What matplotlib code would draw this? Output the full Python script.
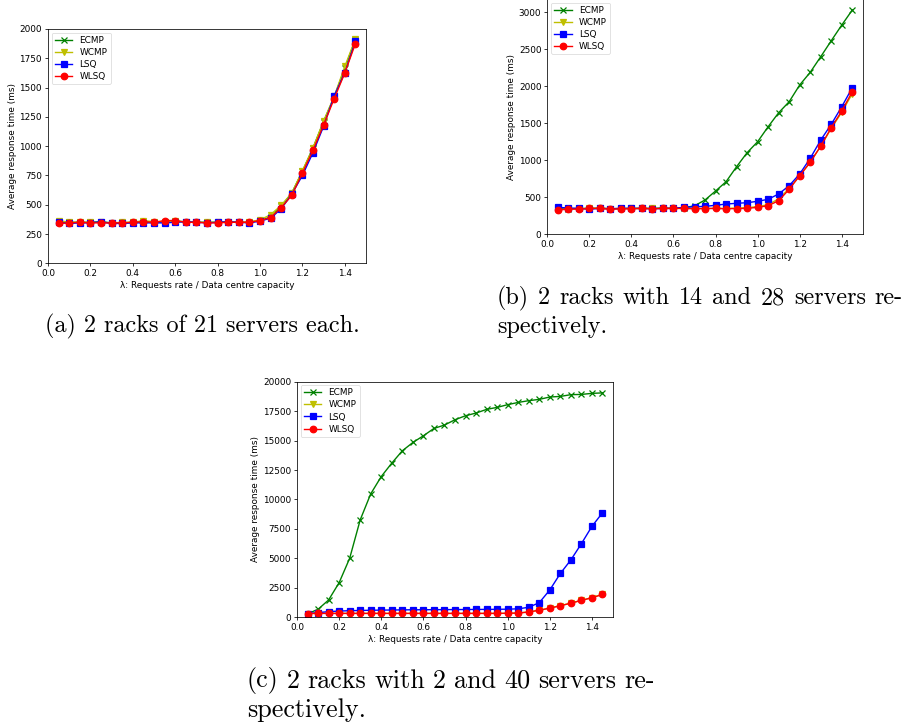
import matplotlib
matplotlib.use("Agg")
import matplotlib.pyplot as plt
from matplotlib.ticker import MultipleLocator

# load factor (requests rate / data centre capacity)
lam = [0.05, 0.10, 0.15, 0.20, 0.25, 0.30, 0.35, 0.40, 0.45, 0.50,
       0.55, 0.60, 0.65, 0.70, 0.75, 0.80, 0.85, 0.90, 0.95, 1.00,
       1.05, 1.10, 1.15, 1.20, 1.25, 1.30, 1.35, 1.40, 1.45]

series_names = ["ECMP", "WCMP", "LSQ", "WLSQ"]

# (a) 2 racks of 21 servers each
ecmp_a = [355, 350, 350, 350, 355, 345, 345, 350, 355, 350, 355, 360, 355, 350, 350,
          350, 355, 350, 350, 365, 395, 485, 600, 785, 985, 1210, 1420, 1665, 1910]
wcmp_a = [365, 350, 350, 350, 350, 345, 350, 350, 365, 355, 355, 360, 350, 350, 350,
          350, 355, 350, 355, 370, 415, 495, 600, 790, 985, 1215, 1425, 1680, 1915]
lsq_a = [350, 340, 345, 345, 355, 340, 340, 345, 345, 345, 345, 350, 355, 350, 345,
         350, 355, 350, 345, 360, 385, 465, 590, 750, 945, 1170, 1430, 1625, 1895]
wlsq_a = [340, 345, 350, 345, 345, 345, 345, 350, 355, 350, 365, 365, 350, 350, 345,
          345, 350, 350, 350, 365, 390, 475, 580, 770, 965, 1180, 1405, 1625, 1875]

# (b) 2 racks with 14 and 28 servers
ecmp_b = [350, 345, 350, 350, 355, 345, 350, 350, 350, 350, 355, 350, 360, 385, 464,
          585, 711, 914, 1103, 1251, 1454, 1643, 1792, 2018, 2189, 2400, 2616, 2828, 3031]
wcmp_b = [335, 345, 345, 350, 350, 345, 345, 350, 350, 350, 350, 350, 350, 350, 350,
          350, 350, 355, 360, 375, 400, 480, 620, 790, 975, 1190, 1430, 1650, 1900]
lsq_b = [365, 355, 350, 340, 350, 345, 350, 350, 350, 345, 350, 350, 365, 372, 378,
         392, 409, 419, 427, 446, 473, 545, 657, 815, 1027, 1274, 1486, 1725, 1981]
wlsq_b = [328, 340, 340, 350, 350, 340, 345, 345, 350, 345, 350, 350, 350, 345, 348,
          350, 345, 348, 350, 365, 386, 454, 608, 792, 973, 1193, 1441, 1666, 1927]

# (c) 2 racks with 2 and 40 servers
ecmp_c = [300, 680, 1470, 2940, 5010, 8270, 10480, 11950, 13090, 14135, 14840, 15410,
          16030, 16320, 16770, 17110, 17340, 17650, 17820, 18050, 18240, 18390, 18500,
          18700, 18750, 18900, 18920, 19010, 19050]
wcmp_c = [320, 335, 335, 335, 335, 335, 335, 335, 335, 335, 335, 335, 335, 335, 335,
          335, 335, 335, 335, 345, 365, 455, 600, 775, 990, 1200, 1440, 1670, 1950]
lsq_c = [310, 400, 480, 530, 560, 580, 600, 610, 620, 630, 640, 640, 650, 650, 660,
         660, 670, 670, 680, 690, 720, 850, 1240, 2320, 3720, 4870, 6250, 7720, 8870]
wlsq_c = [320, 330, 330, 330, 330, 330, 330, 330, 330, 330, 330, 330, 330, 330, 330,
          330, 330, 330, 330, 340, 360, 450, 600, 780, 980, 1200, 1440, 1660, 1940]

panels = [
    dict(data=[ecmp_a, wcmp_a, lsq_a, wlsq_a], ylim=(0, 2000), step=250,
         rect=[48 / 903, 1 - 263.3 / 725, 318 / 903, 234.3 / 725]),
    dict(data=[ecmp_b, wcmp_b, lsq_b, wlsq_b], ylim=(0, 3180), step=500,
         rect=[547.3 / 903, 1 - 234.3 / 725, 315.5 / 903, 235.3 / 725]),
    dict(data=[ecmp_c, wcmp_c, lsq_c, wlsq_c], ylim=(0, 20000), step=2500,
         rect=[297 / 903, 1 - 617.3 / 725, 316 / 903, 235.6 / 725]),
]

styles = [dict(color="g", marker="x"),
          dict(color="y", marker="v"),
          dict(color="b", marker="s"),
          dict(color="r", marker="o")]

fs = 6.4
fig = plt.figure(figsize=(9.03, 7.25), dpi=100)

for p in panels:
    ax = fig.add_axes(p["rect"])
    for name, ys, st in zip(series_names, p["data"], styles):
        ax.plot(lam, ys, color=st["color"], marker=st["marker"], lw=1.0,
                ms=4.7, mew=0.9, label=name)
    ax.set_xlim(0, 1.5)
    ax.set_ylim(*p["ylim"])
    ax.xaxis.set_major_locator(MultipleLocator(0.2))
    ax.yaxis.set_major_locator(MultipleLocator(p["step"]))
    ax.tick_params(labelsize=fs, length=2.3, width=0.55, pad=2)
    for s in ax.spines.values():
        s.set_linewidth(0.55)
    ax.set_xlabel("\u03bb: Requests rate / Data centre capacity", fontsize=fs, labelpad=2)
    ax.set_ylabel("Average response time (ms)", fontsize=fs, labelpad=2)
    leg = ax.legend(loc="upper left", fontsize=fs, borderaxespad=0.4,
                    handlelength=2.0, borderpad=0.35, labelspacing=0.35)
    leg.get_frame().set_linewidth(0.5)

# captions set in a Computer Modern face
cap_font = "cmr10"
renderer = fig.canvas.get_renderer()


def put_line(text, x0, y, size, x1=None):
    """Place a caption line at pixel x0 (from left) and y (from top);
    if x1 is given, spread the words so the line ends at x1."""
    if x1 is None:
        fig.text(x0 / 903, 1 - y / 725, text, fontsize=size, family=cap_font,
                 ha="left", va="center")
        return
    words = text.split(" ")
    objs = [fig.text(0, 1 - y / 725, w, fontsize=size, family=cap_font,
                     ha="left", va="center") for w in words]
    widths = [o.get_window_extent(renderer).width for o in objs]
    gap = (x1 - x0 - sum(widths)) / (len(words) - 1)
    x = x0
    for o, w in zip(objs, widths):
        o.set_x(x / 903)
        x += w + gap


size_ab = 17.4
size_c = 18.8
put_line("(a) 2 racks of 21 servers each.", 45, 326, size_ab)
put_line("(b) 2 racks with 14 and 28 servers re-", 497, 298, size_ab, x1=903)
put_line("spectively.", 497, 327, size_ab)
put_line("(c) 2 racks with 2 and 40 servers re-", 247, 681, size_c, x1=655)
put_line("spectively.", 247, 710, size_c)

fig.savefig("out.png", dpi=100)
